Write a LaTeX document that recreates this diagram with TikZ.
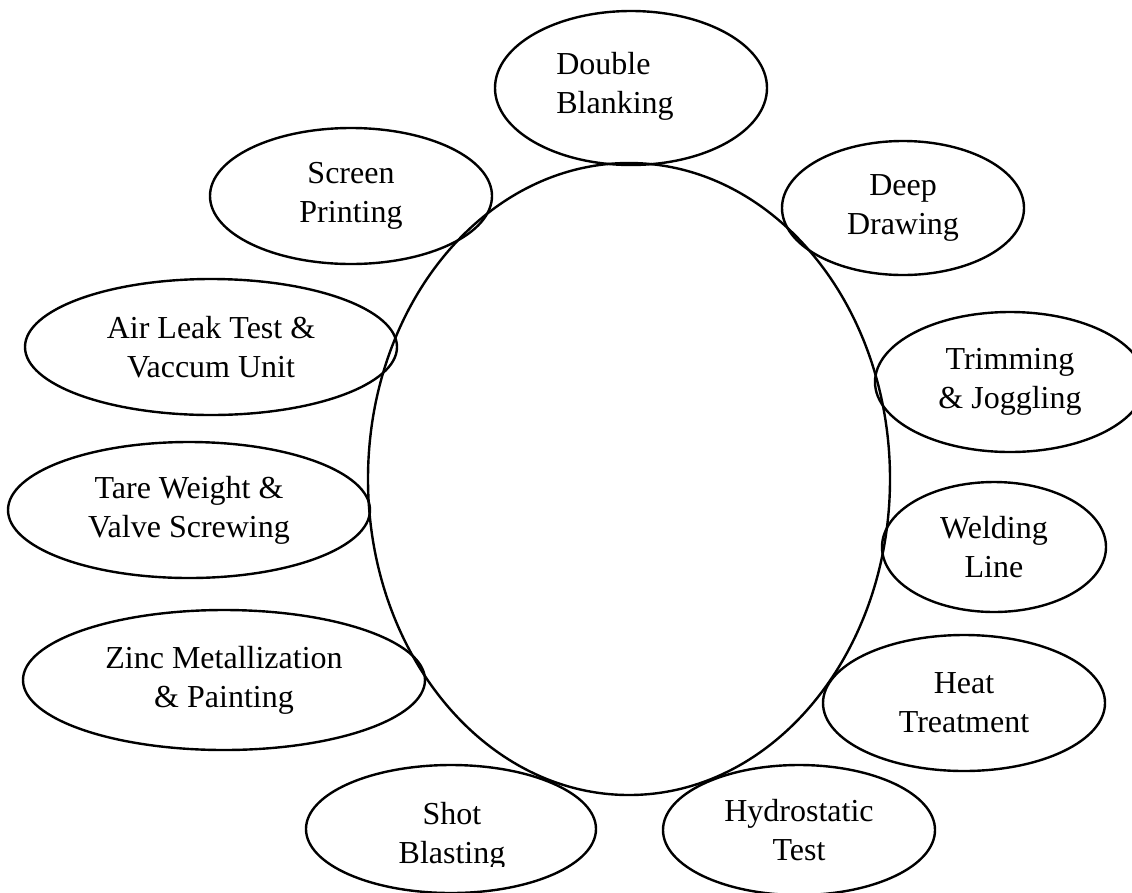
\documentclass[tikz,border=0pt]{standalone}
\usepackage{fontspec}
\setmainfont{Liberation Serif}
\usetikzlibrary{shapes.geometric}

\begin{document}
\begin{tikzpicture}[
    x=1pt, y=-1pt,
    stage/.style={
        ellipse,
        draw,
        line width=2.4pt,  % thick outline round every stage
        inner sep=0pt,     % the ellipse size is set by hand
        align=center,
        font=\fontsize{32}{39}\selectfont
    },
    caption/.style={
        inner sep=0pt,
        font=\fontsize{32}{39}\selectfont
    }
]
\useasboundingbox (0,0) rectangle (1132,892);
\clip (0,0) rectangle (1132,892);

% the big ellipse in the middle
\node[stage, minimum width=522, minimum height=632] (core) at (629,479) {};

% stages, clockwise from the top
\node[stage, minimum width=272, minimum height=154] (blanking) at (631,88) {};
\node[caption, align=left] (blankingtext) at (615,86) {Double\\Blanking};
\node[stage, minimum width=242, minimum height=134] (drawing) at (903,208) {Deep\\Drawing};
\node[stage, minimum width=270, minimum height=140] (trimming) at (1010,382) {Trimming\\\& Joggling};
\node[stage, minimum width=224, minimum height=130] (welding) at (994,547) {Welding\\Line};
\node[stage, minimum width=282, minimum height=136] (heat) at (964,703) {Heat\\Treatment};
\node[stage, minimum width=272, minimum height=130] (hydro) at (799,830) {Hydrostatic\\Test};
\node[stage, minimum width=290, minimum height=128] (shot) at (451,829) {};
\begin{scope}
    % the lower line is cut off in the chart
    \clip (300,740) rectangle (610,866);
    \node[caption, align=center] (shottext) at (452,836) {Shot\\Blasting};
\end{scope}
\node[stage, minimum width=402, minimum height=140] (zinc) at (224,680) {Zinc Metallization\\\& Painting};
\node[stage, minimum width=362, minimum height=136] (tare) at (189,510) {Tare Weight \&\\Valve Screwing};
\node[stage, minimum width=372, minimum height=136] (airleak) at (211,347) {Air Leak Test \&\\Vaccum Unit};
\node[stage, minimum width=282, minimum height=136] (screen) at (351,196) {Screen\\Printing};
\end{tikzpicture}
\end{document}
